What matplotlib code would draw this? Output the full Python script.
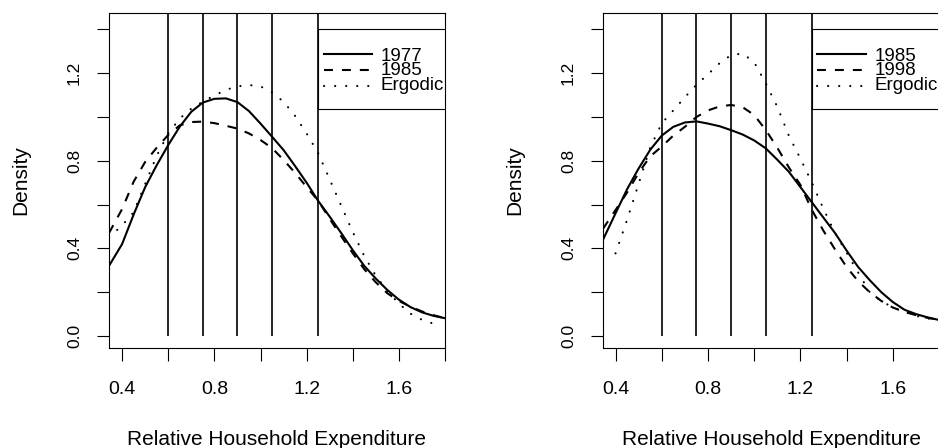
import matplotlib
matplotlib.use("Agg")
import matplotlib.pyplot as plt
from matplotlib.patches import Rectangle

plt.rcParams['font.family'] = ['Liberation Sans', 'DejaVu Sans']

# ---------------- data ----------------
x_left = [0.343, 0.40, 0.45, 0.50, 0.55, 0.60, 0.65, 0.70, 0.75, 0.80, 0.85, 0.90, 0.95,
          1.00, 1.05, 1.10, 1.15, 1.20, 1.25, 1.30, 1.35, 1.40, 1.45, 1.50, 1.55, 1.60,
          1.65, 1.70, 1.75, 1.80]
left_1977 = [0.32, 0.42, 0.555, 0.68, 0.78, 0.872, 0.956, 1.024, 1.066, 1.083, 1.085, 1.068,
             1.027, 0.97, 0.91, 0.849, 0.776, 0.70, 0.617, 0.545, 0.47, 0.392, 0.32, 0.262,
             0.21, 0.166, 0.132, 0.108, 0.092, 0.081]
left_1985 = [0.47, 0.58, 0.705, 0.795, 0.86, 0.918, 0.962, 0.977, 0.979, 0.972, 0.96, 0.947,
             0.925, 0.895, 0.858, 0.804, 0.745, 0.68, 0.618, 0.535, 0.455, 0.378, 0.305,
             0.245, 0.195, 0.16, 0.134, 0.112, 0.095, 0.081]
x_left_erg = x_left[:-1]
left_ergodic = [0.45, 0.505, 0.565, 0.695, 0.823, 0.925, 0.993, 1.038, 1.07, 1.098, 1.124,
                1.14, 1.146, 1.14, 1.112, 1.07, 1.005, 0.925, 0.835, 0.715, 0.595, 0.475,
                0.365, 0.275, 0.205, 0.148, 0.102, 0.074, 0.056]

x_right = [0.346] + x_left[1:]
right_1985 = [0.44, 0.56, 0.67, 0.765, 0.85, 0.915, 0.955, 0.975, 0.98, 0.97, 0.958, 0.94,
              0.92, 0.893, 0.857, 0.805, 0.75, 0.68, 0.61, 0.54, 0.47, 0.39, 0.315, 0.255,
              0.2, 0.155, 0.12, 0.1, 0.085, 0.073]
right_1998 = [0.49, 0.575, 0.655, 0.745, 0.82, 0.865, 0.915, 0.955, 1.0, 1.03, 1.048, 1.055,
              1.045, 1.009, 0.941, 0.86, 0.77, 0.69, 0.575, 0.48, 0.395, 0.315, 0.25, 0.2,
              0.16, 0.13, 0.11, 0.095, 0.083, 0.073]
x_right_erg = x_left[1:]
right_ergodic = [0.377, 0.53, 0.695, 0.86, 0.971, 1.03, 1.09, 1.147, 1.195, 1.245, 1.283,
                 1.29, 1.25, 1.154, 1.047, 0.915, 0.81, 0.70, 0.58, 0.47, 0.38, 0.29, 0.2,
                 0.16, 0.13, 0.111, 0.092, 0.08, 0.073]

cut_points = [0.6, 0.75, 0.9, 1.05, 1.25]
x_ticks = [0.4, 0.6, 0.8, 1.0, 1.2, 1.4, 1.6, 1.8]
x_ticklabels = ['0.4', '', '0.8', '', '1.2', '', '1.6', '']
y_ticks = [0.0, 0.2, 0.4, 0.6, 0.8, 1.0, 1.2, 1.4]
y_ticklabels = ['0.0', '', '0.4', '', '0.8', '', '1.2', '']

panels = [
    dict(x=x_left, a=left_1977, b=left_1985, xe=x_left_erg, e=left_ergodic,
         names=['1977', '1985', 'Ergodic'], xlim=(0.343, 1.8),
         rect=[0.1162, 0.2232, 0.3582, 0.7478]),
    dict(x=x_right, a=right_1985, b=right_1998, xe=x_right_erg, e=right_ergodic,
         names=['1985', '1998', 'Ergodic'], xlim=(0.346, 1.8),
         rect=[0.6429, 0.2232, 0.3582, 0.7478]),
]

fig = plt.figure(figsize=(9.38, 4.48), dpi=100)

LW = 1.5
dashed = (0, (4.3, 4.3))
dotted = (0, (0.1, 5.2))

for p in panels:
    ax = fig.add_axes(p['rect'])
    ax.plot(p['x'], p['a'], color='black', lw=LW, solid_capstyle='butt')
    ax.plot(p['x'], p['b'], color='black', lw=LW, linestyle=dashed)
    ax.plot(p['xe'], p['e'], color='black', lw=LW, linestyle=dotted,
            dash_capstyle='round')
    ax.vlines(cut_points, 0, 1.6, color='black', lw=1.2)

    # legend box (R style, clipped by plot region)
    ax.add_patch(Rectangle((1.25, 1.035), 1.0, 0.365, fill=False, lw=0.8,
                           edgecolor='black', clip_on=True))
    rows = [1.288, 1.215, 1.143]
    bases = [1.257, 1.192, 1.123]
    styles = ['-', dashed, dotted]
    for name, ry, by, ls in zip(p['names'], rows, bases, styles):
        ax.plot([1.274, 1.484], [ry, ry], color='black', lw=LW, linestyle=ls,
                dash_capstyle='round' if ls is dotted else 'butt')
        ax.text(1.52, by, name, fontsize=13.5, va='baseline', ha='left',
                clip_on=True)

    ax.set_xlim(*p['xlim'])
    ax.set_ylim(-0.055, 1.475)
    ax.set_xticks(x_ticks)
    ax.set_xticklabels(x_ticklabels)
    ax.set_yticks(y_ticks)
    ax.set_yticklabels(y_ticklabels, rotation=90, va='center')
    ax.tick_params(axis='both', direction='out', length=9, width=0.8,
                   color='black')
    ax.tick_params(axis='x', pad=15, labelsize=14)
    ax.tick_params(axis='y', pad=10.5, labelsize=12.5)
    for s in ax.spines.values():
        s.set_linewidth(0.8)

    ax.set_xlabel('Relative Household Expenditure', fontsize=15)
    ax.xaxis.label.set_va('baseline')
    ax.xaxis.set_label_coords(0.5, -0.29)
    ax.set_ylabel('Density', fontsize=15)
    ax.yaxis.label.set_va('center')
    ax.yaxis.set_label_coords(-0.262, 0.5)

fig.savefig('out.png', dpi=100)
